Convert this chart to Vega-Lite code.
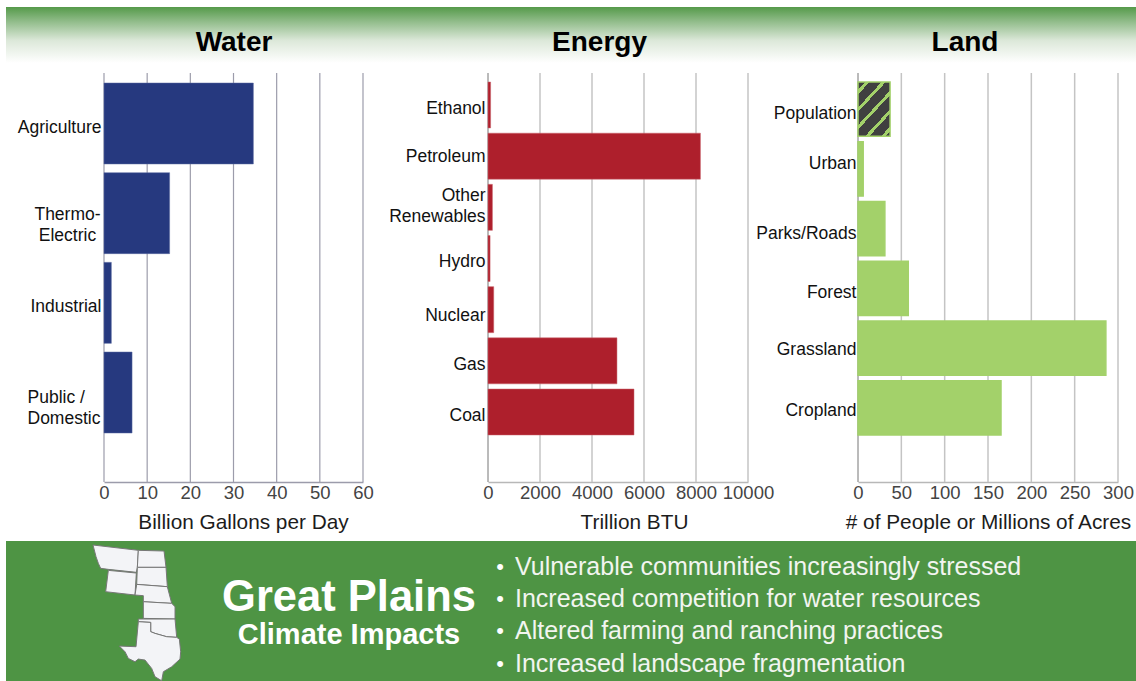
{
  "$schema": "https://vega.github.io/schema/vega-lite/v6.json",
  "padding": {"left": 6, "top": 7, "right": 0, "bottom": 0},
  "background": "white",
  "bounds": "flush",
  "spacing": 0,
  "config": {"view": {"stroke": null}, "font": "Liberation Sans"},
  "vconcat": [
    {
      "width": 1130,
      "height": 56,
      "view": {"fill": {"gradient": "linear", "x1": 0, "y1": 0, "x2": 0, "y2": 1, "stops": [{"offset": 0, "color": "#559a4a"}, {"offset": 0.25, "color": "#8fbb88"}, {"offset": 0.6, "color": "#dce8d9"}, {"offset": 1, "color": "#ffffff"}]}},
      "data": {"values": [{"sector": "Water"}, {"sector": "Energy"}, {"sector": "Land"}]},
      "mark": {"type": "text", "fontSize": 28, "fontWeight": "bold", "color": "#000000", "baseline": "middle", "align": "center"},
      "encoding": {
        "text": {"field": "sector"},
        "x": {"field": "sector", "type": "nominal", "axis": null, "scale": {"type": "point", "padding": 0, "domain": ["Water", "Energy", "Land"], "range": [228, 959]}},
        "y": {"field": "sector", "type": "nominal", "axis": null, "scale": {"type": "point", "padding": 0, "domain": ["Water", "Energy", "Land"], "range": [36, 36]}}
      }
    },
    {"width": 1130, "height": 10, "data": {"values": []}, "mark": {"type": "rect", "opacity": 0}, "encoding": {}},
    {
      "bounds": "flush",
      "spacing": 0,
      "hconcat": [
        {"width": 98, "height": 409, "data": {"values": []}, "mark": {"type": "rect", "opacity": 0}, "encoding": {}},
        {
          "width": 259,
          "height": 409,
          "layer": [
            {
              "data": {"values": [{"tick": 0}, {"tick": 10}, {"tick": 20}, {"tick": 30}, {"tick": 40}, {"tick": 50}, {"tick": 60}]},
              "mark": {"type": "rule", "color": "#9c9cab", "strokeWidth": 1.2},
              "encoding": {"x": {"field": "tick", "type": "quantitative", "scale": {"domain": [0, 60], "nice": false}}}
            },
            {
              "data": {"values": [
                {"use": "Agriculture", "amount": 34.6},
                {"use": "Thermo-|Electric", "amount": 15.2},
                {"use": "Industrial", "amount": 1.7},
                {"use": "Public /|Domestic", "amount": 6.5}
              ]},
              "mark": {"type": "bar", "color": "#26397f", "stroke": "#5a6aa0", "strokeWidth": 0.5},
              "encoding": {
                "x": {"field": "amount", "type": "quantitative", "scale": {"domain": [0, 60], "nice": false},
                  "axis": {"values": [0, 10, 20, 30, 40, 50, 60], "title": "Billion Gallons per Day", "titleX": 139, "titleFont": "Liberation Sans", "titleFontSize": 20.8, "titleFontWeight": "normal", "titleColor": "#1c1c1c", "titlePadding": 11, "labelFont": "Liberation Sans", "labelFontSize": 18.5, "labelColor": "#444444", "labelPadding": 1, "ticks": false, "domainColor": "#9c9cab", "domainWidth": 1.5, "grid": false, "labelFlush": false, "labelOverlap": false}},
                "y": {"field": "use", "type": "nominal", "sort": null, "scale": {"range": [10, 360], "paddingInner": 0.097, "paddingOuter": 0},
                  "axis": {"title": null, "domain": false, "ticks": false, "labelFontSize": 17.5, "labelColor": "#111111", "labelLineHeight": 21, "labelLimit": 200, "labelExpr": "split(datum.value, '|')",
                    "labelAlign": {"expr": "datum.value === 'Thermo-|Electric' ? 'center' : datum.value === 'Public /|Domestic' ? 'left' : 'right'"},
                    "labelPadding": {"expr": "datum.value === 'Thermo-|Electric' ? 37 : datum.value === 'Public /|Domestic' ? 77 : 3"},
                    "labelOffset": {"expr": "{'Agriculture': 4.5, 'Thermo-|Electric': 2, 'Industrial': 4, 'Public /|Domestic': 5.5}[datum.value]"}}}
              }
            }
          ]
        },
        {"width": 125, "height": 409, "data": {"values": []}, "mark": {"type": "rect", "opacity": 0}, "encoding": {}},
        {
          "width": 260,
          "height": 409,
          "layer": [
            {
              "data": {"values": [{"tick": 2000}, {"tick": 4000}, {"tick": 6000}, {"tick": 8000}, {"tick": 10000}]},
              "mark": {"type": "rule", "color": "#c4c4c4", "strokeWidth": 1.5},
              "encoding": {"x": {"field": "tick", "type": "quantitative", "scale": {"domain": [0, 10000], "nice": false}}}
            },
            {
              "data": {"values": [{"tick": 0}]},
              "mark": {"type": "rule", "color": "#777777", "strokeWidth": 1},
              "encoding": {"x": {"field": "tick", "type": "quantitative", "scale": {"domain": [0, 10000], "nice": false}}}
            },
            {
              "data": {"values": [
                {"source": "Ethanol", "btu": 100},
                {"source": "Petroleum", "btu": 8170},
                {"source": "Other|Renewables", "btu": 170},
                {"source": "Hydro", "btu": 80},
                {"source": "Nuclear", "btu": 220},
                {"source": "Gas", "btu": 4960},
                {"source": "Coal", "btu": 5615}
              ]},
              "mark": {"type": "bar", "color": "#ae1f2c", "stroke": "#c8626a", "strokeWidth": 0.5},
              "encoding": {
                "x": {"field": "btu", "type": "quantitative", "scale": {"domain": [0, 10000], "nice": false},
                  "axis": {"values": [0, 2000, 4000, 6000, 8000, 10000], "title": "Trillion BTU", "titleX": 146, "titleFont": "Liberation Sans", "titleFontSize": 20.8, "titleFontWeight": "normal", "titleColor": "#1c1c1c", "titlePadding": 11, "labelFont": "Liberation Sans", "labelFontSize": 18.5, "labelColor": "#444444", "labelPadding": 1, "ticks": false, "domainColor": "#b8b8b8", "domainWidth": 1.5, "grid": false, "labelFlush": false, "labelOverlap": false, "format": "d"}},
                "y": {"field": "source", "type": "nominal", "sort": null, "scale": {"range": [9, 362], "paddingInner": 0.1016, "paddingOuter": 0},
                  "axis": {"title": null, "domain": false, "ticks": false, "labelFontSize": 17.5, "labelColor": "#111111", "labelPadding": 3, "labelLineHeight": 21, "labelLimit": 200, "labelExpr": "split(datum.value, '|')", "labelOffset": {"expr": "{'Ethanol': 4, 'Petroleum': 1, 'Other|Renewables': -11, 'Hydro': 3, 'Nuclear': 6, 'Gas': 4, 'Coal': 4}[datum.value]"}}}
              }
            }
          ]
        },
        {"width": 110, "height": 409, "data": {"values": []}, "mark": {"type": "rect", "opacity": 0}, "encoding": {}},
        {
          "width": 260,
          "height": 409,
          "layer": [
            {
              "data": {"values": [{"tick": 50}, {"tick": 100}, {"tick": 150}, {"tick": 200}, {"tick": 250}, {"tick": 300}]},
              "mark": {"type": "rule", "color": "#c4c4c4", "strokeWidth": 1.5},
              "encoding": {"x": {"field": "tick", "type": "quantitative", "scale": {"domain": [0, 300], "nice": false}}}
            },
            {
              "data": {"values": [{"tick": 0}]},
              "mark": {"type": "rule", "color": "#777777", "strokeWidth": 1},
              "encoding": {"x": {"field": "tick", "type": "quantitative", "scale": {"domain": [0, 300], "nice": false}}}
            },
            {
              "data": {"values": [
                {"category": "Population", "count": 37},
                {"category": "Urban", "count": 6},
                {"category": "Parks/Roads", "count": 31},
                {"category": "Forest", "count": 58},
                {"category": "Grassland", "count": 286},
                {"category": "Cropland", "count": 165}
              ]},
              "mark": {"type": "bar", "stroke": "#a3d16a", "strokeWidth": 1.5},
              "encoding": {
                "x": {"field": "count", "type": "quantitative", "scale": {"domain": [0, 300], "nice": false},
                  "axis": {"values": [0, 50, 100, 150, 200, 250, 300], "title": "# of People or Millions of Acres", "titleFont": "Liberation Sans", "titleFontSize": 20.8, "titleFontWeight": "normal", "titleColor": "#1c1c1c", "titlePadding": 11, "labelFont": "Liberation Sans", "labelFontSize": 18.5, "labelColor": "#444444", "labelPadding": 1, "ticks": false, "domainColor": "#b8b8b8", "domainWidth": 1.5, "grid": false, "labelFlush": false, "labelOverlap": false}},
                "y": {"field": "category", "type": "nominal", "sort": null, "scale": {"range": [9, 362], "paddingInner": 0.09, "paddingOuter": 0},
                  "axis": {"title": null, "domain": false, "ticks": false, "labelFontSize": 17.5, "labelColor": "#111111", "labelPadding": 2, "labelLimit": 200, "labelOffset": {"expr": "{'Population': 5, 'Urban': -5, 'Parks/Roads': 5, 'Forest': 5, 'Grassland': 2, 'Cropland': 3}[datum.value]"}}},
                "fill": {
                  "condition": {"test": "datum.category === 'Population'", "value": {"gradient": "linear", "x1": 0, "y1": 0, "x2": 0.742, "y2": 1.164, "stops": [
                    {"offset": 0, "color": "#404040"}, {"offset": 0.09, "color": "#404040"}, {"offset": 0.09, "color": "#a3d16a"}, {"offset": 0.14, "color": "#a3d16a"}, {"offset": 0.14, "color": "#404040"},
                    {"offset": 0.287, "color": "#404040"}, {"offset": 0.287, "color": "#a3d16a"}, {"offset": 0.337, "color": "#a3d16a"}, {"offset": 0.337, "color": "#404040"},
                    {"offset": 0.485, "color": "#404040"}, {"offset": 0.485, "color": "#a3d16a"}, {"offset": 0.535, "color": "#a3d16a"}, {"offset": 0.535, "color": "#404040"},
                    {"offset": 0.695, "color": "#404040"}, {"offset": 0.695, "color": "#a3d16a"}, {"offset": 0.745, "color": "#a3d16a"}, {"offset": 0.745, "color": "#404040"},
                    {"offset": 0.89, "color": "#404040"}, {"offset": 0.89, "color": "#a3d16a"}, {"offset": 0.94, "color": "#a3d16a"}, {"offset": 0.94, "color": "#404040"},
                    {"offset": 1, "color": "#404040"}]}},
                  "value": "#a3d16a"
                }
              }
            }
          ]
        }
      ]
    },
    {"width": 1130, "height": 468, "data": {"values": []}, "mark": {"type": "rect", "opacity": 0}, "encoding": {}},
    {
      "width": 1130,
      "height": 140,
      "view": {"fill": "#4e9444"},
      "resolve": {"scale": {"x": "independent", "y": "independent"}},
      "layer": [
        {
          "data": {"values": [
            {"state": "MT", "o": 1, "lon": -116, "lat": 49}, {"state": "MT", "o": 2, "lon": -104.41, "lat": 48.1}, {"state": "MT", "o": 3, "lon": -104.66, "lat": 45.22}, {"state": "MT", "o": 4, "lon": -104.92, "lat": 44.38}, {"state": "MT", "o": 5, "lon": -112.08, "lat": 44.88}, {"state": "MT", "o": 6, "lon": -114.04, "lat": 45.05}, {"state": "MT", "o": 7, "lon": -114.64, "lat": 45.9}, {"state": "MT", "o": 8, "lon": -115.23, "lat": 47.03},
            {"state": "WY", "o": 1, "lon": -112.08, "lat": 44.71}, {"state": "WY", "o": 2, "lon": -104.92, "lat": 44.26}, {"state": "WY", "o": 3, "lon": -105.26, "lat": 40.54}, {"state": "WY", "o": 4, "lon": -112.76, "lat": 41.1},
            {"state": "ND", "o": 1, "lon": -104.41, "lat": 48.1}, {"state": "ND", "o": 2, "lon": -97.84, "lat": 47.98}, {"state": "ND", "o": 3, "lon": -97.33, "lat": 45.22}, {"state": "ND", "o": 4, "lon": -104.66, "lat": 45.22},
            {"state": "SD", "o": 1, "lon": -104.66, "lat": 45.22}, {"state": "SD", "o": 2, "lon": -97.33, "lat": 45.22}, {"state": "SD", "o": 3, "lon": -96.99, "lat": 41.95}, {"state": "SD", "o": 4, "lon": -104.83, "lat": 42.34},
            {"state": "NE", "o": 1, "lon": -104.83, "lat": 42.34}, {"state": "NE", "o": 2, "lon": -96.99, "lat": 41.95}, {"state": "NE", "o": 3, "lon": -95.88, "lat": 39.13}, {"state": "NE", "o": 4, "lon": -103.13, "lat": 39.41}, {"state": "NE", "o": 5, "lon": -103.13, "lat": 40.43}, {"state": "NE", "o": 6, "lon": -105.26, "lat": 40.54},
            {"state": "KS", "o": 1, "lon": -103.13, "lat": 39.41}, {"state": "KS", "o": 2, "lon": -95.88, "lat": 39.13}, {"state": "KS", "o": 3, "lon": -95.03, "lat": 38.57}, {"state": "KS", "o": 4, "lon": -95.03, "lat": 36.48}, {"state": "KS", "o": 5, "lon": -103.13, "lat": 36.59},
            {"state": "OK", "o": 1, "lon": -104.41, "lat": 36.48}, {"state": "OK", "o": 2, "lon": -95.03, "lat": 36.48}, {"state": "OK", "o": 3, "lon": -94.6, "lat": 33.38}, {"state": "OK", "o": 4, "lon": -97.16, "lat": 33.49}, {"state": "OK", "o": 5, "lon": -100.14, "lat": 34.05}, {"state": "OK", "o": 6, "lon": -101.25, "lat": 34.34}, {"state": "OK", "o": 7, "lon": -101.25, "lat": 35.91}, {"state": "OK", "o": 8, "lon": -104.41, "lat": 36.03},
            {"state": "TX", "o": 1, "lon": -104.41, "lat": 36.03}, {"state": "TX", "o": 2, "lon": -101.25, "lat": 35.91}, {"state": "TX", "o": 3, "lon": -101.25, "lat": 34.34}, {"state": "TX", "o": 4, "lon": -100.14, "lat": 34.05}, {"state": "TX", "o": 5, "lon": -97.16, "lat": 33.49}, {"state": "TX", "o": 6, "lon": -94.6, "lat": 33.38}, {"state": "TX", "o": 7, "lon": -93.92, "lat": 33.09}, {"state": "TX", "o": 8, "lon": -93.58, "lat": 30.95}, {"state": "TX", "o": 9, "lon": -93.75, "lat": 29.71}, {"state": "TX", "o": 10, "lon": -95.88, "lat": 28.41}, {"state": "TX", "o": 11, "lon": -98.01, "lat": 27.57}, {"state": "TX", "o": 12, "lon": -98.44, "lat": 26.04}, {"state": "TX", "o": 13, "lon": -100.14, "lat": 26.72}, {"state": "TX", "o": 14, "lon": -101, "lat": 28.13}, {"state": "TX", "o": 15, "lon": -102.7, "lat": 29.54}, {"state": "TX", "o": 16, "lon": -104.41, "lat": 29.71}, {"state": "TX", "o": 17, "lon": -105.26, "lat": 29.26}, {"state": "TX", "o": 18, "lon": -106.96, "lat": 29.82}, {"state": "TX", "o": 19, "lon": -107.82, "lat": 30.95}, {"state": "TX", "o": 20, "lon": -109.27, "lat": 31.91}, {"state": "TX", "o": 21, "lon": -105, "lat": 31.8}
          ]},
          "mark": {"type": "line", "interpolate": "linear-closed", "fill": "#f3f4f7", "stroke": "#777777", "strokeWidth": 1},
          "encoding": {
            "x": {"field": "lon", "type": "quantitative", "axis": null, "scale": {"domain": [-116, -93.5], "range": [87, 175], "nice": false, "zero": false}},
            "y": {"field": "lat", "type": "quantitative", "axis": null, "scale": {"domain": [26, 49], "range": [140, 4], "nice": false, "zero": false}},
            "detail": {"field": "state"},
            "order": {"field": "o"}
          }
        },
        {
          "data": {"values": [
            {"line": "Great Plains", "size": "big"},
            {"line": "Climate Impacts", "size": "small"}
          ]},
          "mark": {"type": "text", "color": "#ffffff", "fontWeight": "bold", "align": "center", "baseline": "middle"},
          "encoding": {
            "text": {"field": "line"},
            "x": {"field": "line", "type": "nominal", "axis": null, "scale": {"type": "point", "padding": 0, "domain": ["Great Plains", "Climate Impacts"], "range": [343, 343]}},
            "y": {"field": "line", "type": "nominal", "axis": null, "scale": {"type": "point", "padding": 0, "domain": ["Great Plains", "Climate Impacts"], "range": [57, 94]}},
            "size": {"field": "size", "type": "nominal", "legend": null, "scale": {"domain": ["big", "small"], "range": [43.5, 29]}}
          }
        },
        {
          "data": {"name": "bullets", "values": [
            {"impact": "Vulnerable communities increasingly stressed"},
            {"impact": "Increased competition for water resources"},
            {"impact": "Altered farming and ranching practices"},
            {"impact": "Increased landscape fragmentation"}
          ]},
          "layer": [
            {
              "mark": {"type": "text", "color": "#f2f5f0", "fontSize": 25, "align": "left", "baseline": "middle"},
              "encoding": {
                "text": {"field": "impact"},
                "x": {"field": "impact", "type": "nominal", "axis": null, "scale": {"type": "point", "padding": 0, "range": [509, 509]}},
                "y": {"field": "impact", "type": "nominal", "sort": null, "axis": null, "scale": {"type": "point", "padding": 0, "range": [25.5, 122.5]}}
              }
            },
            {
              "mark": {"type": "text", "text": "•", "color": "#ffffff", "fontSize": 22, "align": "center", "baseline": "middle"},
              "encoding": {
                "x": {"field": "impact", "type": "nominal", "axis": null, "scale": {"type": "point", "padding": 0, "range": [494, 494]}},
                "y": {"field": "impact", "type": "nominal", "sort": null, "axis": null, "scale": {"type": "point", "padding": 0, "range": [25.5, 122.5]}}
              }
            }
          ],
          "resolve": {"scale": {"x": "independent"}}
        }
      ]
    }
  ]
}
